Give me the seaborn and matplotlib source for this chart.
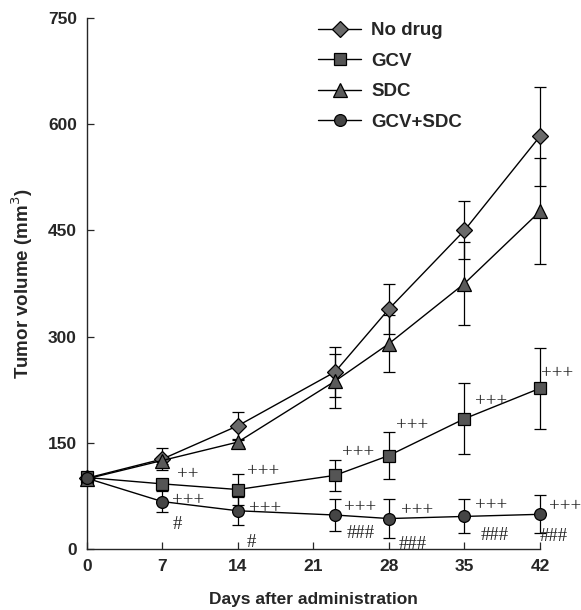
import matplotlib
matplotlib.use("Agg")
import matplotlib.pyplot as plt
import seaborn as sns
import pandas as pd

# measured tumour volumes (mean and error) per group
days = [0, 7, 14, 23, 28, 35, 42]
x_ticks = [0, 7, 14, 21, 28, 35, 42]
y_ticks = [0, 150, 300, 450, 600, 750]

no_drug = [100, 127, 174, 250, 339, 450, 583]
no_drug_err = [0, 15, 20, 36, 36, 41, 70]
gcv = [101, 92, 84, 104, 132, 184, 227]
gcv_err = [0, 4, 22, 22, 33, 50, 57]
sdc = [99, 125, 151, 237, 290, 375, 477]
sdc_err = [0, 5, 5, 38, 40, 58, 75]
combo = [100, 67, 54, 48, 43, 46, 49]
combo_err = [0, 15, 20, 23, 27, 24, 27]

# significance marks
gcv_marks = ["", "++", "+++", "+++", "+++", "+++", "+++"]
combo_marks = ["", "+++", "+++", "+++", "+++", "+++", "+++"]
hash_marks = ["", "#", "#", "###", "###", "###", "###"]

sns.set_style("ticks")
plt.rcParams["font.family"] = ["Liberation Sans", "DejaVu Sans"]

fig = plt.figure(figsize=(5.81, 6.10), dpi=100)
ax = fig.add_axes([86.7 / 581, 61 / 610, (540 - 86.7) / 581, (549 - 18) / 610])

series = [
    ("No drug", no_drug, no_drug_err, "D", 8, "#6a6a6a"),
    ("GCV", gcv, gcv_err, "s", 8.5, "#555555"),
    ("SDC", sdc, sdc_err, "^", 9.5, "#5a5a5a"),
    ("GCV+SDC", combo, combo_err, "o", 8.5, "#454545"),
]

for name, vals, err, mk, ms, fc in series:
    df = pd.DataFrame({"day": days, "vol": vals})
    ax.errorbar(days, vals, yerr=err, fmt="none", ecolor="black",
                elinewidth=0.9, capsize=4, capthick=0.9, zorder=1, clip_on=False)
    sns.lineplot(data=df, x="day", y="vol", ax=ax, color="black", lw=1.0,
                 marker=mk, markersize=ms, markerfacecolor=fc,
                 markeredgecolor="black", markeredgewidth=0.9,
                 label=name, zorder=3, clip_on=False)

# pixel offsets of the marks from their points
gcv_off = [(0, 0), (15, 9), (9, 18), (7, 23), (7, 30), (11, 17), (1, 15)]
combo_off = [(0, 0), (10, 1), (11, 2), (9, 7), (12, 8), (11, 11), (9, 8)]
hash_off = [(0, 0), (10, -23), (9, -32), (12, -18), (10, -26), (16, -19), (0, -22)]

serif = ["Liberation Serif", "DejaVu Serif"]
for vals, marks, offs in [(gcv, gcv_marks, gcv_off),
                          (combo, combo_marks, combo_off),
                          (combo, hash_marks, hash_off)]:
    for d, v, m, o in zip(days, vals, marks, offs):
        if m:
            ax.annotate(m, xy=(d, v), xytext=o, textcoords="offset pixels",
                        ha="left", va="center", fontsize=13.5, family=serif,
                        annotation_clip=False)

ax.set_xlim(0, 42)
ax.set_ylim(0, 750)
ax.set_xticks(x_ticks)
ax.set_yticks(y_ticks)
ax.tick_params(direction="in", length=5, width=0.9, pad=7, labelsize=12.5)
for lab in ax.get_xticklabels() + ax.get_yticklabels():
    lab.set_fontweight("bold")
for sp in ["left", "bottom"]:
    ax.spines[sp].set_linewidth(1.0)
sns.despine(ax=ax)

ax.set_xlabel("Days after administration", fontsize=12.5, fontweight="bold", labelpad=13)
ax.set_ylabel("Tumor volume (mm$^3$)", fontsize=13.5, fontweight="bold", labelpad=9)

leg = ax.legend(loc="upper left", bbox_to_anchor=(318 / 581, 1 - 22 / 610),
                bbox_transform=fig.transFigure, frameon=False, fontsize=13.5,
                handlelength=2.3, handletextpad=0.55, labelspacing=0.72,
                borderpad=0, borderaxespad=0)
for t in leg.get_texts():
    t.set_fontweight("bold")

fig.savefig("out.png", dpi=100)
